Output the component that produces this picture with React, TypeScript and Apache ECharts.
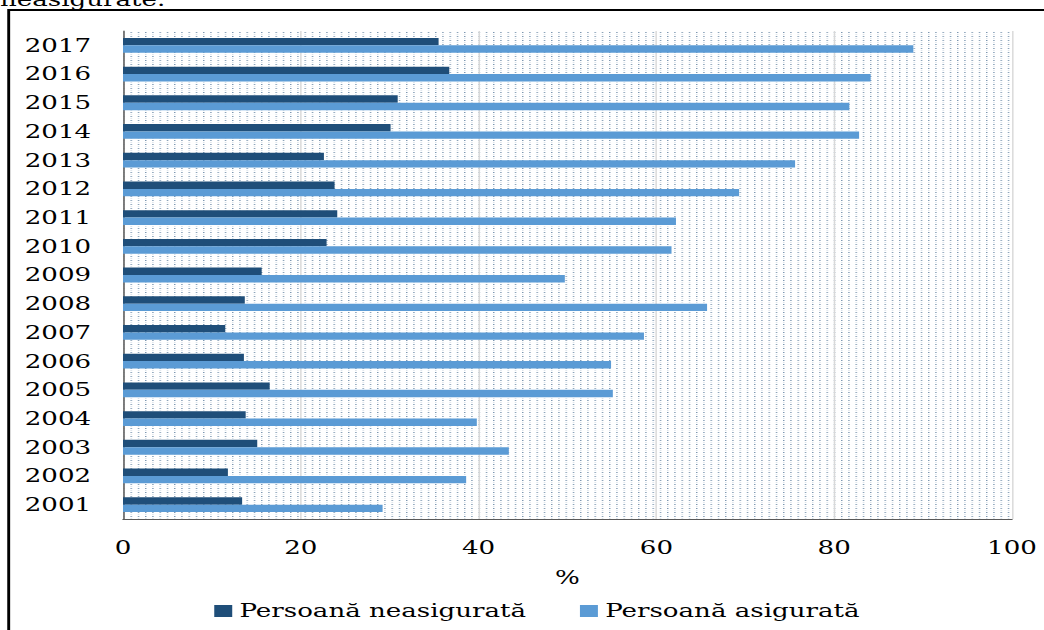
import React, { useEffect, useRef } from "react";
import * as echarts from "echarts";

const years = ["2001","2002","2003","2004","2005","2006","2007","2008","2009","2010","2011","2012","2013","2014","2015","2016","2017"];
const uninsured = [13.4, 11.8, 15.1, 13.8, 16.5, 13.6, 11.5, 13.7, 15.6, 22.9, 24.1, 23.8, 22.6, 30.1, 30.9, 36.7, 35.5];
const insured = [29.2, 38.6, 43.4, 39.8, 55.1, 54.9, 58.6, 65.7, 49.7, 61.7, 62.2, 69.3, 75.6, 82.8, 81.7, 84.1, 88.9];
const seriesNames = ["Persoană neasigurată", "Persoană asigurată"];
const xTicks = { min: 0, max: 100, interval: 20 };

const S = 1.45;
const CW = 1044 / S;
const CH = 630;
const FONT = "DejaVu Serif";

export default function App() {
  const ref = useRef<HTMLDivElement>(null);
  useEffect(() => {
    if (!ref.current) return;
    const chart = echarts.init(ref.current, undefined, { renderer: "svg" });
    const c = document.createElement("canvas");
    c.width = 5; c.height = 4;
    const ctx = c.getContext("2d")!;
    ctx.fillStyle = "rgba(31,78,121,0.6)";
    ctx.fillRect(0, 0, 1, 1);
    ctx.fillStyle = "rgba(31,78,121,0.18)";
    ctx.fillRect(0, 2, 1, 1);
    const L = 123 / S;
    const R = 1012 / S;
    const T = 31;
    const B = 519;
    chart.setOption({
      animation: false,
      grid: { left: L, top: T, right: CW - R, bottom: CH - B, containLabel: false },
      legend: {
        data: seriesNames,
        left: 207 / S,
        top: 597,
        itemWidth: 12.4,
        itemHeight: 12,
        itemGap: 37,
        icon: "rect",
        textStyle: { fontFamily: FONT, fontSize: 18, color: "#000" },
      },
      xAxis: {
        type: "value",
        min: xTicks.min,
        max: xTicks.max,
        interval: xTicks.interval,
        name: "%",
        nameLocation: "middle",
        nameGap: 50,
        nameTextStyle: { fontFamily: FONT, fontSize: 18, color: "#000" },
        axisLine: { show: true, lineStyle: { color: "#595959", width: 1 } },
        axisTick: { show: false },
        axisLabel: { fontFamily: FONT, fontSize: 18, color: "#000", margin: 20 },
        splitLine: { show: true, lineStyle: { color: "#d9d9d9", width: 1 } },
      },
      yAxis: {
        type: "category",
        data: years,
        axisLine: { show: true, lineStyle: { color: "#595959", width: 1 } },
        axisTick: { show: false },
        axisLabel: { fontFamily: FONT, fontSize: 18, color: "#000", margin: 22 },
        splitLine: { show: false },
      },
      graphic: [
        {
          type: "rect",
          silent: true,
          z: -10,
          shape: { x: L, y: T, width: R - L, height: B - T },
          style: { fill: { image: c, repeat: "repeat" } as any },
        },
        {
          type: "rect",
          silent: true,
          shape: { x: 8.7 / S, y: 10, width: 3000, height: 3000 },
          style: { fill: "none", stroke: "#000", lineWidth: 2 },
        },
        {
          type: "text",
          silent: true,
          x: 0,
          y: 9,
          style: { text: "neasigurate.", fontFamily: FONT, fontSize: 18, fill: "#000", verticalAlign: "bottom" },
        },
      ],
      series: [
        {
          name: seriesNames[0],
          type: "bar",
          data: uninsured,
          barWidth: 7.4,
          barGap: "0%",
          itemStyle: { color: "#1F4E79" },
        },
        {
          name: seriesNames[1],
          type: "bar",
          data: insured,
          barWidth: 7.4,
          barGap: "0%",
          itemStyle: { color: "#5B9BD5" },
        },
      ],
    });
    return () => chart.dispose();
  }, []);
  return (
    <div style={{ position: "fixed", left: 0, top: 0, width: 1044, height: 630, overflow: "hidden", background: "#fff" }}>
      <div
        ref={ref}
        style={{ width: CW, height: CH, transform: `scaleX(${S})`, transformOrigin: "0 0" }}
      />
    </div>
  );
}
